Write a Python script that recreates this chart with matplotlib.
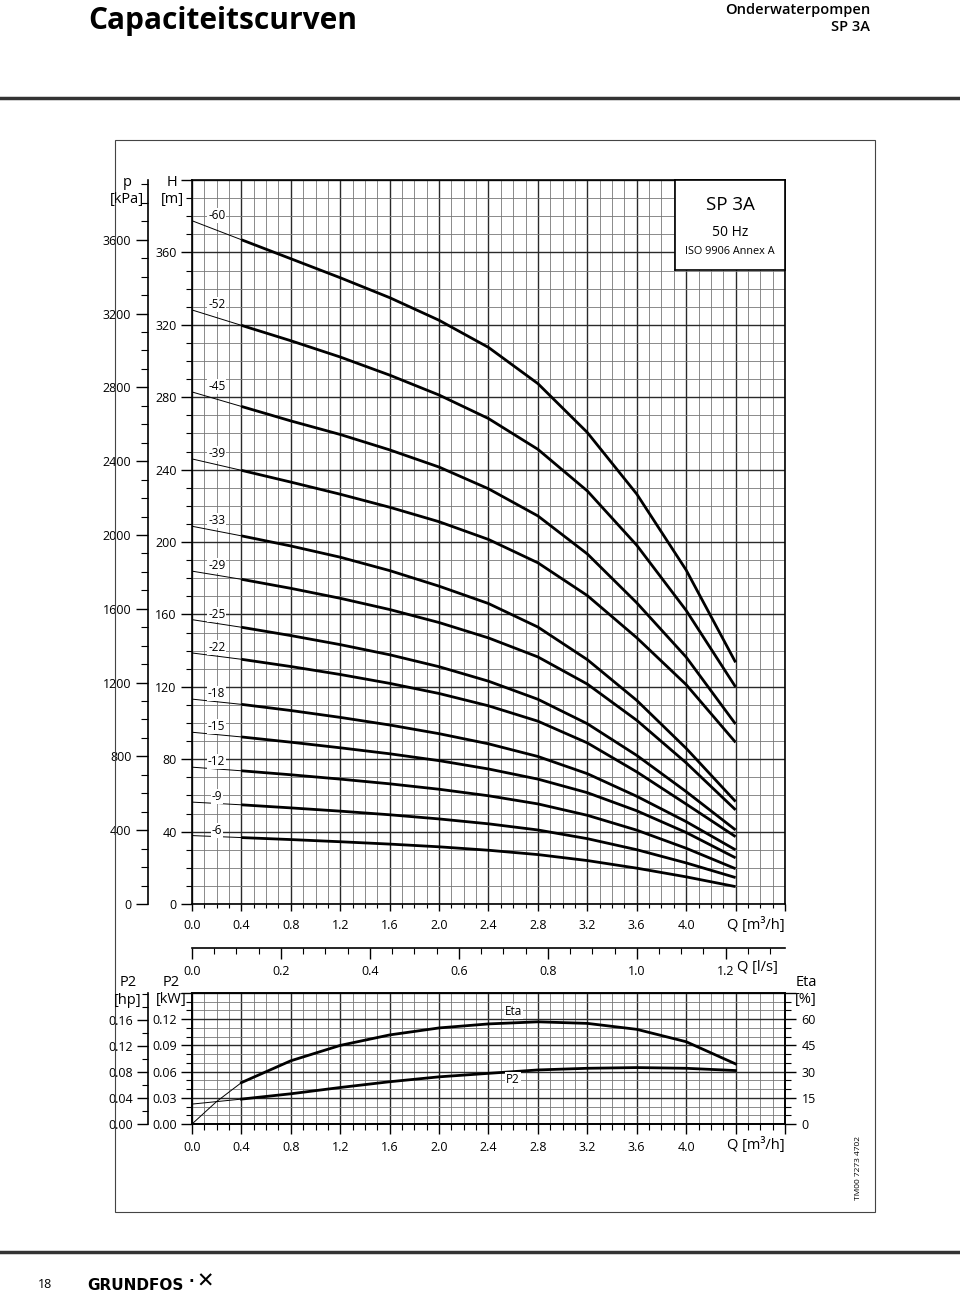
import numpy as np
import matplotlib
matplotlib.use("Agg")
import matplotlib.pyplot as plt
from matplotlib.ticker import MultipleLocator
from matplotlib.patches import Rectangle
from matplotlib.lines import Line2D

plt.rcParams['font.family'] = ['Open Sans', 'DejaVu Sans']

# ---------------- data ----------------
Q = [0.0, 0.4, 0.8, 1.2, 1.6, 2.0, 2.4, 2.8, 3.2, 3.6, 4.0, 4.4]   # m3/h

stage_labels = ['-60', '-52', '-45', '-39', '-33', '-29', '-25', '-22', '-18', '-15', '-12', '-9', '-6']
H_60 = [377.5, 367.0, 356.5, 346.0, 335.0, 322.5, 307.5, 287.5, 260.5, 226.5, 184.5, 133.5]
H_52 = [328.2, 319.7, 311.2, 302.2, 292.2, 281.2, 268.2, 251.2, 228.2, 198.2, 162.2, 119.9]
H_45 = [282.9, 274.9, 266.9, 259.4, 250.9, 241.4, 229.4, 214.4, 193.4, 166.4, 136.4, 99.4]
H_39 = [245.9, 239.6, 233.1, 226.4, 219.2, 211.2, 201.4, 188.5, 170.4, 147.1, 121.2, 89.3]
H_33 = [208.7, 203.4, 197.8, 191.6, 184.2, 175.6, 166.0, 153.0, 135.0, 112.5, 86.0, 56.6]
H_29 = [183.9, 179.4, 174.4, 168.9, 162.7, 155.5, 147.0, 136.5, 121.5, 101.5, 78.0, 52.0]
H_25 = [157.1, 152.9, 148.3, 143.3, 137.7, 131.1, 123.1, 113.1, 99.6, 82.1, 62.1, 40.9]
H_22 = [138.7, 135.2, 131.2, 126.8, 121.9, 116.3, 109.5, 101.0, 89.0, 73.0, 55.2, 37.2]
H_18 = [113.2, 110.3, 106.9, 103.1, 98.9, 94.1, 88.5, 81.5, 72.0, 59.5, 45.5, 29.9]
H_15 = [94.9, 92.3, 89.4, 86.3, 83.0, 79.2, 74.6, 69.0, 61.5, 51.5, 39.5, 25.5]
H_12 = [75.6, 73.6, 71.4, 69.0, 66.4, 63.4, 59.8, 55.3, 49.0, 40.8, 30.8, 19.5]
H_9 = [56.3, 54.8, 53.1, 51.3, 49.3, 47.0, 44.3, 40.9, 36.1, 30.0, 22.7, 14.6]
H_6 = [37.8, 36.7, 35.6, 34.4, 33.1, 31.6, 29.7, 27.3, 24.0, 19.8, 15.0, 9.6]
H_curves = [H_60, H_52, H_45, H_39, H_33, H_29, H_25, H_22, H_18, H_15, H_12, H_9, H_6]

Q_eta = [0.0, 0.2, 0.4, 0.8, 1.2, 1.6, 2.0, 2.4, 2.8, 3.2, 3.6, 4.0, 4.4]
eta = [0.0, 12.9, 23.7, 36.2, 45.0, 51.0, 55.0, 57.3, 58.5, 57.6, 54.2, 47.1, 34.4]   # %
Q_p2 = [0.0, 0.4, 0.8, 1.2, 1.6, 2.0, 2.4, 2.8, 3.2, 3.6, 4.0, 4.4]
P2_kw = [0.0228, 0.0285, 0.0346, 0.0418, 0.0484, 0.0540, 0.0580, 0.0619, 0.0638, 0.0646, 0.0638, 0.0612]

x_ticks = [0.0, 0.4, 0.8, 1.2, 1.6, 2.0, 2.4, 2.8, 3.2, 3.6, 4.0, 4.4, 4.8]
x_ticklabels = ['0.0', '0.4', '0.8', '1.2', '1.6', '2.0', '2.4', '2.8', '3.2', '3.6', '4.0', '', '']
H_ticks = [0, 40, 80, 120, 160, 200, 240, 280, 320, 360, 400]
H_ticklabels = ['0', '40', '80', '120', '160', '200', '240', '280', '320', '360', '']
p_ticks = [0, 400, 800, 1200, 1600, 2000, 2400, 2800, 3200, 3600]
kw_ticks = [0.0, 0.03, 0.06, 0.09, 0.12, 0.15]
kw_ticklabels = ['0.00', '0.03', '0.06', '0.09', '0.12', '']
hp_ticks = [0.0, 0.04, 0.08, 0.12, 0.16]
hp_ticklabels = ['0.00', '0.04', '0.08', '0.12', '0.16']
eta_ticks = [0, 15, 30, 45, 60, 75]
eta_ticklabels = ['0', '15', '30', '45', '60', '']
lps_ticks = [0.0, 0.2, 0.4, 0.6, 0.8, 1.0, 1.2]
lps_ticklabels = ['0.0', '0.2', '0.4', '0.6', '0.8', '1.0', '1.2']

RHO_G = 9.81      # kPa per m
KW_PER_HP = 0.7457

# ---------------- layout helpers ----------------
W, HP = 960, 1292
fig = plt.figure(figsize=(W / 100, HP / 100), dpi=100)


def rect(x0, y0, x1, y1):
    return [x0 / W, 1 - y1 / HP, (x1 - x0) / W, (y1 - y0) / HP]


def ftext(x, y, s, **kw):
    return fig.text(x / W, 1 - y / HP, s, **kw)


GRID_MAJ = dict(color='#2a2a2a', lw=1.0)
GRID_MIN = dict(color='#777777', lw=0.6)
THICK = 2.0
THIN = 0.7
TICK_FS = 9

# ---------------- page decoration ----------------
ftext(88, 29, 'Capaciteitscurven', fontsize=21.5, fontweight='bold', va='baseline', ha='left')
ftext(870, 14, 'Onderwaterpompen', fontsize=10.5, fontweight='semibold', va='baseline', ha='right')
ftext(870, 31, 'SP 3A', fontsize=10.5, fontweight='semibold', va='baseline', ha='right')
fig.add_artist(Line2D([0, 1], [1 - 98 / HP] * 2, transform=fig.transFigure, color='#333333', lw=2.5))
fig.add_artist(Line2D([0, 1], [1 - 1252 / HP] * 2, transform=fig.transFigure, color='#333333', lw=2.5))
fig.add_artist(Rectangle((115 / W, 1 - 1212 / HP), 760 / W, 1072 / HP, transform=fig.transFigure,
                         fill=False, ec='#444444', lw=0.8))
ftext(858, 1168, 'TM00 7273 4702', fontsize=6, rotation=90, ha='center', va='center')
ftext(45, 1285, '18', fontsize=9, ha='center', va='center')
ftext(87, 1285, 'GRUNDFOS', fontsize=11, fontweight='bold', family='DejaVu Sans', ha='left', va='center')
ftext(189, 1281, '·', fontsize=11, fontweight='bold', family='DejaVu Sans', ha='left', va='center')
ftext(196, 1282, '✕', fontsize=15, fontweight='bold', family='DejaVu Sans', ha='left', va='center')

# ---------------- main QH chart ----------------
ax = fig.add_axes(rect(192, 180, 785, 904))
ax.set_xlim(0, 4.8)
ax.set_ylim(0, 400)
ax.set_xticks(x_ticks, labels=x_ticklabels)
ax.set_yticks(H_ticks, labels=H_ticklabels)
ax.xaxis.set_minor_locator(MultipleLocator(0.1))
ax.yaxis.set_minor_locator(MultipleLocator(10))
ax.grid(which='major', **GRID_MAJ)
ax.grid(which='minor', **GRID_MIN)
ax.set_axisbelow(True)
for s in ax.spines.values():
    s.set_linewidth(1.2)
ax.tick_params(axis='y', which='major', length=8, width=1.0, labelsize=TICK_FS, pad=3)
ax.tick_params(axis='y', which='minor', length=4, width=0.8)
ax.tick_params(axis='x', which='major', length=5, width=1.0, labelsize=TICK_FS, pad=6)
ax.tick_params(axis='x', which='minor', length=3, width=0.8)

for lab, H in zip(stage_labels, H_curves):
    ax.plot(Q[:2], H[:2], color='black', lw=THIN, zorder=3)
    ax.plot(Q[1:], H[1:], color='black', lw=THICK, zorder=3, solid_joinstyle='round',
            solid_capstyle='butt')
    ax.text(0.2, H[0] + 3.0, lab, fontsize=8.5, ha='center', va='center', zorder=4,
            bbox=dict(boxstyle='square,pad=0.08', fc='white', ec='none'))

sec_p = ax.secondary_yaxis((148 - 192) / 593, functions=(lambda h: h * RHO_G, lambda p: p / RHO_G))
sec_p.set_yticks(p_ticks)
sec_p.yaxis.set_minor_locator(MultipleLocator(100))
sec_p.tick_params(which='major', length=9, width=1.0, labelsize=TICK_FS, pad=3)
sec_p.tick_params(which='minor', length=5, width=0.8)
sec_p.spines['left'].set_linewidth(1.2)

ftext(172, 183, 'H', fontsize=10.5, ha='center', va='center')
ftext(172, 199, '[m]', fontsize=10.5, ha='center', va='center')
ftext(127, 183, 'p', fontsize=10.5, ha='center', va='center')
ftext(127, 199, '[kPa]', fontsize=10.5, ha='center', va='center')
ftext(756, 925, 'Q [m³/h]', fontsize=10.5, ha='center', va='center')

# legend box
lg = fig.add_axes(rect(675, 180, 785, 270), zorder=5)
lg.set_xticks([])
lg.set_yticks([])
lg.set_facecolor('white')
for s in lg.spines.values():
    s.set_linewidth(1.2)
lg.text(0.5, 0.72, 'SP 3A', fontsize=13.5, ha='center', va='center', transform=lg.transAxes)
lg.text(0.5, 0.42, '50 Hz', fontsize=10, ha='center', va='center', transform=lg.transAxes)
lg.text(0.5, 0.20, 'ISO 9906 Annex A', fontsize=7.8, ha='center', va='center', transform=lg.transAxes)

# ---------------- power / efficiency chart ----------------
ax2 = fig.add_axes(rect(192, 993, 785, 1124))
ax2.set_xlim(0, 4.8)
ax2.set_ylim(0, 0.15)
ax2.set_xticks(x_ticks, labels=x_ticklabels)
ax2.set_yticks(kw_ticks, labels=kw_ticklabels)
ax2.xaxis.set_minor_locator(MultipleLocator(0.1))
ax2.yaxis.set_minor_locator(MultipleLocator(0.01))
ax2.grid(which='major', **GRID_MAJ)
ax2.grid(which='minor', **GRID_MIN)
ax2.set_axisbelow(True)
for s in ax2.spines.values():
    s.set_linewidth(1.2)
ax2.tick_params(axis='y', which='major', length=8, width=1.0, labelsize=TICK_FS, pad=3)
ax2.tick_params(axis='y', which='minor', length=4, width=0.8)
ax2.tick_params(axis='x', which='major', length=7, width=1.0, labelsize=TICK_FS, pad=5)
ax2.tick_params(axis='x', which='minor', length=4, width=0.8)

ax2.plot(Q_p2[:2], P2_kw[:2], color='black', lw=THIN, zorder=3)
ax2.plot(Q_p2[1:], P2_kw[1:], color='black', lw=THICK, zorder=3, solid_joinstyle='round')
ax2.text(2.6, 0.0505, 'P2', fontsize=8.5, ha='center', va='center', zorder=4,
         bbox=dict(boxstyle='square,pad=0.08', fc='white', ec='none'))

ax2e = ax2.twinx()
ax2e.set_ylim(0, 75)
ax2e.set_yticks(eta_ticks, labels=eta_ticklabels)
ax2e.yaxis.set_minor_locator(MultipleLocator(5))
ax2e.tick_params(axis='y', which='major', length=8, width=1.0, labelsize=TICK_FS, pad=4)
ax2e.tick_params(axis='y', which='minor', length=4, width=0.8)
for s in ax2e.spines.values():
    s.set_linewidth(1.2)
ax2e.plot(Q_eta[:3], eta[:3], color='black', lw=THIN, zorder=3)
ax2e.plot(Q_eta[2:], eta[2:], color='black', lw=THICK, zorder=3, solid_joinstyle='round')
ax2e.text(2.6, 64.6, 'Eta', fontsize=8.5, ha='center', va='center', zorder=4,
          bbox=dict(boxstyle='square,pad=0.08', fc='white', ec='none'))

sec_hp = ax2.secondary_yaxis((148 - 192) / 593, functions=(lambda k: k / KW_PER_HP, lambda h: h * KW_PER_HP))
sec_hp.set_yticks(hp_ticks, labels=hp_ticklabels)
sec_hp.yaxis.set_minor_locator(MultipleLocator(0.02))
sec_hp.tick_params(which='major', length=8, width=1.0, labelsize=TICK_FS, pad=3)
sec_hp.tick_params(which='minor', length=4, width=0.8)
sec_hp.spines['left'].set_linewidth(1.2)

sec_l = ax2.secondary_xaxis((1124 - 948) / 131, functions=(lambda q: q / 3.6, lambda l: l * 3.6))
sec_l.set_alignment('bottom')
sec_l.set_xticks(lps_ticks, labels=lps_ticklabels)
sec_l.xaxis.set_minor_locator(MultipleLocator(0.05))
sec_l.tick_params(which='major', length=8, width=1.0, labelsize=TICK_FS, pad=4, direction='out')
sec_l.tick_params(which='minor', length=4, width=0.8, direction='out')
sec_l.spines['bottom'].set_linewidth(1.2)

ftext(757, 968, 'Q [l/s]', fontsize=10.5, ha='center', va='center')
ftext(756, 1145, 'Q [m³/h]', fontsize=10.5, ha='center', va='center')
ftext(171, 983, 'P2', fontsize=10.5, ha='center', va='center')
ftext(171, 1000, '[kW]', fontsize=10.5, ha='center', va='center')
ftext(128, 983, 'P2', fontsize=10.5, ha='center', va='center')
ftext(128, 1000, '[hp]', fontsize=10.5, ha='center', va='center')
ftext(806, 983, 'Eta', fontsize=10.5, ha='center', va='center')
ftext(806, 1000, '[%]', fontsize=10.5, ha='center', va='center')

fig.savefig('out.png', dpi=100, facecolor='white')
